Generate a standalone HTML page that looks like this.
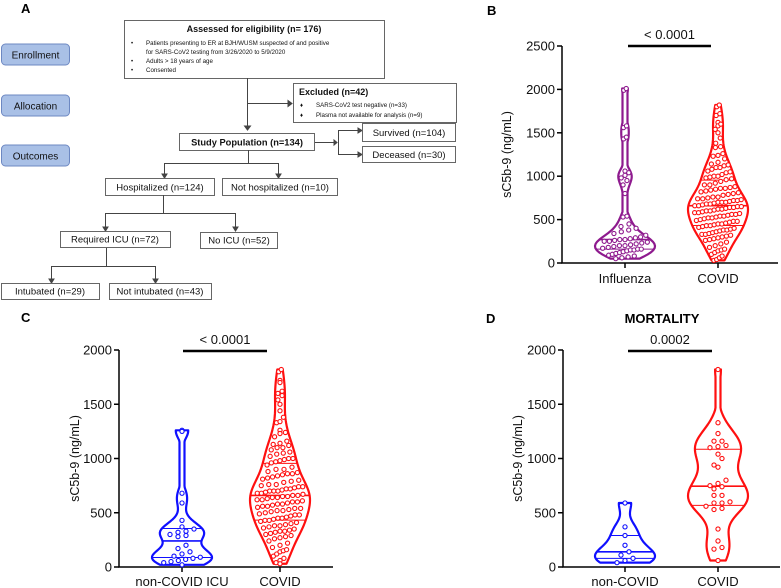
<!DOCTYPE html>
<html><head><meta charset="utf-8"><style>
html,body{margin:0;padding:0;background:#fff;}
svg{display:block;font-family:"Liberation Sans",Arial,sans-serif;}
</style></head><body>
<svg id="fig" width="781" height="588" viewBox="0 0 781 588" xmlns="http://www.w3.org/2000/svg">
<g id="flow" fill="none" stroke="#444" stroke-width="1">
  <text x="21" y="13" font-size="13" font-weight="bold" fill="#000" stroke="none">A</text>
  <rect x="1.5" y="44" width="68" height="21" rx="4" fill="#a9c0e6" stroke="#6d88c2"/>
  <text x="35.5" y="58.5" font-size="10" text-anchor="middle" fill="#111" stroke="none">Enrollment</text>
  <rect x="1.5" y="95" width="68" height="21" rx="4" fill="#a9c0e6" stroke="#6d88c2"/>
  <text x="35.5" y="109.5" font-size="10" text-anchor="middle" fill="#111" stroke="none">Allocation</text>
  <rect x="1.5" y="145" width="68" height="21" rx="4" fill="#a9c0e6" stroke="#6d88c2"/>
  <text x="35.5" y="159.5" font-size="10" text-anchor="middle" fill="#111" stroke="none">Outcomes</text>

  <rect x="124.5" y="20.5" width="260" height="58" stroke="#666"/>
  <g fill="#111" stroke="none">
    <text x="254" y="32" font-size="9" font-weight="bold" text-anchor="middle">Assessed for eligibility (n= 176)</text>
    <text x="131" y="45" font-size="6">•</text><text x="146" y="45" font-size="6.2">Patients presenting to ER at BJH/WUSM suspected of and positive</text>
    <text x="146" y="54" font-size="6.2">for SARS-CoV2 testing from 3/26/2020 to 5/9/2020</text>
    <text x="131" y="63" font-size="6">•</text><text x="146" y="63" font-size="6.2">Adults &gt; 18 years of age</text>
    <text x="131" y="72" font-size="6">•</text><text x="146" y="72" font-size="6.2">Consented</text>
  </g>
  <rect x="293.5" y="83.5" width="163" height="39" stroke="#666"/>
  <g fill="#111" stroke="none">
    <text x="299" y="95" font-size="9" font-weight="bold">Excluded (n=42)</text>
    <text x="300" y="107" font-size="6">♦</text><text x="316" y="107" font-size="6.2">SARS-CoV2 test negative (n=33)</text>
    <text x="300" y="117" font-size="6">♦</text><text x="316" y="117" font-size="6.2">Plasma not available for analysis (n=9)</text>
  </g>
  <line x1="247.5" y1="78" x2="247.5" y2="128"/>
  <path d="M244.5 126 L247.5 130 L250.5 126Z" fill="#444"/>
  <line x1="247.5" y1="103.5" x2="290" y2="103.5"/>
  <path d="M288 100.5 L292 103.5 L288 106.5Z" fill="#444"/>

  <rect x="179.5" y="133.5" width="135" height="17" stroke="#666"/>
  <text x="247" y="145.5" font-size="9.3" font-weight="bold" text-anchor="middle" fill="#111" stroke="none">Study Population (n=134)</text>
  <line x1="315" y1="142.5" x2="336" y2="142.5"/>
  <path d="M334 140 L337 142.5 L334 145Z" fill="#444"/>
  <path d="M360 130.5 H338.5 V154.5 H360"/>
  <path d="M358 128 L362 130.5 L358 133Z M358 152 L362 154.5 L358 157Z" fill="#444"/>
  <rect x="362.5" y="123.5" width="93" height="18" stroke="#666"/>
  <text x="409" y="136" font-size="9.5" text-anchor="middle" fill="#111" stroke="none">Survived (n=104)</text>
  <rect x="362.5" y="146.5" width="93" height="16" stroke="#666"/>
  <text x="409" y="158" font-size="9.5" text-anchor="middle" fill="#111" stroke="none">Deceased (n=30)</text>

  <path d="M248.5 150 V163.5 M164.5 176 V163.5 H278.5 V176"/>
  <path d="M162 174 L164.5 178 L167 174Z M276 174 L278.5 178 L281 174Z" fill="#444"/>
  <rect x="105.5" y="178.5" width="109" height="17" stroke="#666"/>
  <text x="160" y="190.5" font-size="9.5" text-anchor="middle" fill="#111" stroke="none">Hospitalized (n=124)</text>
  <rect x="222.5" y="178.5" width="115" height="17" stroke="#666"/>
  <text x="280" y="190.5" font-size="9.5" text-anchor="middle" fill="#111" stroke="none">Not hospitalized (n=10)</text>

  <path d="M163.5 195 V213.5 M105.5 229 V213.5 H235.5 V229"/>
  <path d="M103 227 L105.5 231 L108 227Z M233 227 L235.5 231 L238 227Z" fill="#444"/>
  <rect x="60.5" y="231.5" width="110" height="16" stroke="#666"/>
  <text x="115" y="242.5" font-size="9.5" text-anchor="middle" fill="#111" stroke="none">Required ICU (n=72)</text>
  <rect x="200.5" y="232.5" width="77" height="16" stroke="#666"/>
  <text x="239" y="243.5" font-size="9.5" text-anchor="middle" fill="#111" stroke="none">No ICU (n=52)</text>

  <path d="M106.5 248 V266.5 M51.5 281 V266.5 H155.5 V281"/>
  <path d="M49 279 L51.5 283 L54 279Z M153 279 L155.5 283 L158 279Z" fill="#444"/>
  <rect x="1.5" y="283.5" width="98" height="16" stroke="#666"/>
  <text x="50" y="294.5" font-size="9.5" text-anchor="middle" fill="#111" stroke="none">Intubated (n=29)</text>
  <rect x="109.5" y="283.5" width="102" height="16" stroke="#666"/>
  <text x="160" y="294.5" font-size="9.5" text-anchor="middle" fill="#111" stroke="none">Not intubated (n=43)</text>
</g>
<g id="charts"></g>
</svg>
<script>
// ---- data ----
const fluValues = [2010,1990,1580,1560,1450,1430,1060,1040,1010,980,950,900,800,540,530,450,420,400,380,360,340,320,300,290,280,270,270,260,250,250,240,230,220,210,200,200,190,180,170,160,160,150,150,140,130,120,110,100,90,80,70,60,50];
const covidValues = [1820,1800,1720,1700,1620,1600,1580,1540,1500,1440,1380,1340,1330,1260,1240,1230,1200,1160,1140,1130,1120,1100,1080,1060,1050,1040,1020,1000,990,980,970,960,940,920,900,880,860,860,850,840,830,820,800,790,780,760,750,740,730,720,720,710,700,690,680,670,660,660,650,640,630,620,610,600,600,590,580,570,560,550,540,540,530,520,510,500,490,480,470,460,450,440,430,430,420,410,400,390,380,370,360,350,340,330,320,310,300,290,280,270,260,240,220,200,180,160,150,140,120,100,80,60,40,30,700,650,620,580,520,480,450,380,330,900,1000,1100,760,680,560,640,700,740,810,870];
const icuValues = [1260,1250,680,590,430,370,350,330,320,300,290,280,200,170,140,120,100,90,80,70,60,50,40,20];
const nonCovidMortValues = [590,370,290,200,140,110,80,60,40];
const covidMortValues = [1820,1330,1230,1160,1160,1120,1110,1100,1040,1000,940,920,800,770,750,740,720,660,660,590,590,600,560,540,530,350,240,180,165,60];
const ticksB = [0,500,1000,1500,2000,2500];
const ticksCD = [0,500,1000,1500,2000];
const catsB = ["Influenza","COVID"];
const catsC = ["non-COVID ICU","COVID"];
const catsD = ["non-COVID","COVID"];
const pB = "< 0.0001", pC = "< 0.0001", pD = "0.0002";

const NS = "http://www.w3.org/2000/svg";
const root = document.getElementById('charts');
function el(tag, attrs, parent){const e=document.createElementNS(NS,tag);for(const k in attrs)e.setAttribute(k,attrs[k]);(parent||root).appendChild(e);return e;}

function quantile(s,q){const p=(s.length-1)*q,i=Math.floor(p),f=p-i;return s[i]+(s[Math.min(i+1,s.length-1)]-s[i])*f;}

function drawPanel(cfg){
  const g=el('g',{});
  
  
  const y=v=>cfg.y0-(v/cfg.ymax)*(cfg.y0-cfg.y1);
  const ax=el('path',{d:`M${cfg.ax} ${y(cfg.ymax)} V${cfg.y0} H${cfg.xend}`,stroke:'#000','stroke-width':1.5,fill:'none'},g);
  
  
  cfg.ticks.forEach(t=>{
    el('line',{x1:cfg.ax-5,x2:cfg.ax,y1:y(t),y2:y(t),stroke:'#000','stroke-width':1.5},g);
    const tx=el('text',{x:cfg.ax-7,y:y(t)+4.5,'font-size':13,'text-anchor':'end',fill:'#111'},g);
    tx.textContent=t;
    
    
  });
  const yt=el('text',{transform:`translate(${cfg.ytx},${(cfg.y0+y(cfg.ymax))/2}) rotate(-90)`,'font-size':12.5,'text-anchor':'middle',fill:'#111'},g);
  yt.textContent='sC5b-9 (ng/mL)';
  
  
  const sb=el('line',{x1:cfg.sig[0],x2:cfg.sig[1],y1:cfg.sigY,y2:cfg.sigY,stroke:'#000','stroke-width':2.5},g);
  
  
  const st=el('text',{x:(cfg.sig[0]+cfg.sig[1])/2,y:cfg.sigY-7,'font-size':13,'text-anchor':'middle',fill:'#111'},g);
  st.textContent=cfg.p;
  
  
  cfg.series.forEach((s,si)=>{
    const cx=cfg.cx[si];
    el('line',{x1:cx,x2:cx,y1:cfg.y0,y2:cfg.y0+5,stroke:'#000','stroke-width':1.5},g);
    const cl=el('text',{x:cx,y:cfg.labY,'font-size':13,'text-anchor':'middle',fill:'#111'},g);
    cl.textContent=cfg.cats[si];
    
    
    const vals=s.values.slice().sort((a,b)=>a-b);
    const mn=vals[0],mx=vals[vals.length-1];
    const bw=s.bw;
    const dens=v=>vals.reduce((a,x)=>a+Math.exp(-0.5*((v-x)/bw)**2),0);
    const steps=80,pts=[];let dmax=0;
    for(let i=0;i<=steps;i++){const v=mn+(mx-mn)*i/steps;const d=dens(v);pts.push([v,d]);if(d>dmax)dmax=d;}
    const hw=d=>Math.max(2.5,30*d/dmax);
    let d='M'+pts.map(p=>`${cx+hw(p[1])} ${y(p[0])}`).join(' L')+' L'+pts.slice().reverse().map(p=>`${cx-hw(p[1])} ${y(p[0])}`).join(' L')+'Z';
    const vio=el('path',{d,fill:'none',stroke:s.color,'stroke-width':2.2,'stroke-linejoin':'round'},g);
    
    
    [0.25,0.5,0.75].forEach(q=>{
      const v=quantile(vals,q),w=hw(dens(v));
      const ql=el('line',{x1:cx-w,x2:cx+w,y1:y(v),y2:y(v),stroke:s.color,'stroke-width':q==0.5?1.6:1},g);
      
      
    });
    const bins={};
    vals.forEach(v=>{const b=Math.round(y(v)/7);(bins[b]=bins[b]||[]).push(v);});
    Object.keys(bins).forEach(b=>{
      const arr=bins[b];
      const w=hw(dens(arr[0]));
      const sp=Math.min(8,(2*w*0.85)/Math.max(arr.length,1));
      arr.forEach((v,i)=>{
        const off=(i-(arr.length-1)/2)*sp;
        const c=el('circle',{cx:cx+off,cy:y(v),r:2.1,fill:'#fff',stroke:s.color,'stroke-width':1.1},g);
        
        
      });
    });
  });
}

drawPanel({name:'panel-b-chart',ax:562,xend:778,y0:263,y1:46,ymax:2500,ticks:ticksB,ytx:511,sig:[628,711],sigY:46,p:pB,cx:[625,718],labY:283,cats:catsB,
  series:[{values:fluValues,color:'#8e1a8e',bw:70},{values:covidValues,color:'#ff1010',bw:110}]});
drawPanel({name:'panel-c-chart',ax:119,xend:333,y0:567,y1:350,ymax:2000,ticks:ticksCD,ytx:79,sig:[183,267],sigY:351,p:pC,cx:[182,280],labY:586,cats:catsC,
  series:[{values:icuValues,color:'#1010ff',bw:70},{values:covidValues,color:'#ff1010',bw:110}]});
drawPanel({name:'panel-d-chart',ax:563,xend:780,y0:567,y1:350,ymax:2000,ticks:ticksCD,ytx:522,sig:[628,712],sigY:351,p:pD,cx:[625,718],labY:586,cats:catsD,
  series:[{values:nonCovidMortValues,color:'#1010ff',bw:80},{values:covidMortValues,color:'#ff1010',bw:120}]});

function lab(t,x,yy,name,size,anchor){const e=el('text',{x:x,y:yy,'font-size':size,'font-weight':'bold',fill:'#000','text-anchor':anchor||'start'});e.textContent=t;
  
  }
lab('B',487,15,'panel-label-b',13);
lab('C',21,322,'panel-label-c',13);
lab('D',486,323,'panel-label-d',13);
lab('MORTALITY',662,323,'panel-d-title',13,'middle');
</script>
</body></html>
